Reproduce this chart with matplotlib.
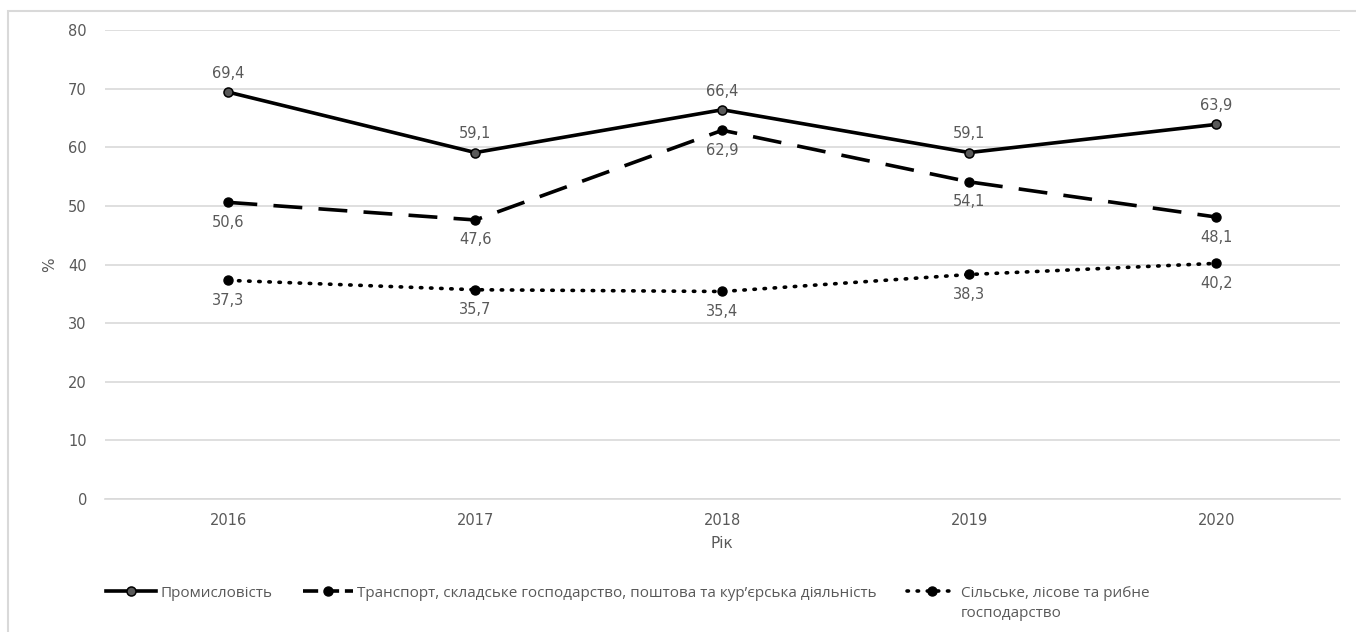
import matplotlib.pyplot as plt
from matplotlib.patches import Rectangle
from matplotlib.legend_handler import HandlerLine2D

plt.rcParams['font.family'] = ['DejaVu Sans']

# Дані
roky = ['2016', '2017', '2018', '2019', '2020']
promyslovist = [69.4, 59.1, 66.4, 59.1, 63.9]
transport = [50.6, 47.6, 62.9, 54.1, 48.1]
silske = [37.3, 35.7, 35.4, 38.3, 40.2]
nazvy = ['Промисловість',
         'Транспорт, складське господарство, поштова та кур\u2019єрська діяльність',
         'Сільське, лісове та рибне']
nazva_dodatok = 'господарство'

sirij = '#595959'
shryft_legendy = {'family': 'Open Sans', 'size': 11}

fig = plt.figure(figsize=(13.56, 6.32), dpi=100)
ax = fig.add_axes([0.0774, 0.2104, 0.9106, 0.7421])

# Рамка навколо діаграми (права та нижня сторони за межами зображення)
fig.patches.append(Rectangle((0.006, -0.05), 1.1, 1.033, transform=fig.transFigure,
                             fill=False, edgecolor='#d9d9d9', linewidth=1.5))

x = range(len(roky))
ax.plot(x, promyslovist, color='black', linewidth=2.6, marker='o', markersize=6.5,
        markerfacecolor='#595959', markeredgecolor='black', markeredgewidth=1.1,
        label=nazvy[0], zorder=3)
l_transport, = ax.plot(x, transport, color='black', linewidth=2.6,
                       linestyle=(0, (8, 4.5)), marker='o', markersize=6.5,
                       markerfacecolor='black', markeredgecolor='black',
                       label=nazvy[1], zorder=3)
ax.plot(x, silske, color='black', linewidth=2.6, linestyle=(0, (0.4, 2.4)),
        dash_capstyle='round', marker='o', markersize=6.5, markerfacecolor='black',
        markeredgecolor='black', label=nazvy[2], zorder=3)

# Підписи значень
def pidpys(v):
    return f'{v:.1f}'.replace('.', ',')

for i, v in enumerate(promyslovist):
    ax.annotate(pidpys(v), (i, v), xytext=(0, 8), textcoords='offset points',
                ha='center', va='bottom', fontsize=10.5, color=sirij)
for ryad in (transport, silske):
    for i, v in enumerate(ryad):
        ax.annotate(pidpys(v), (i, v), xytext=(0, -9), textcoords='offset points',
                    ha='center', va='top', fontsize=10.5, color=sirij)

ax.set_xlim(-0.5, len(roky) - 0.5)
ax.set_ylim(0, 80)
ax.set_yticks(range(0, 81, 10))
ax.set_xticks(list(x))
ax.set_xticklabels(roky)
ax.grid(axis='y', color='#d9d9d9', linewidth=1.2)
ax.set_axisbelow(True)
for s in ('top', 'right', 'left'):
    ax.spines[s].set_visible(False)
ax.spines['bottom'].set_color('#d9d9d9')
ax.spines['bottom'].set_linewidth(1.2)
ax.tick_params(length=0, labelsize=10.5, labelcolor=sirij)
ax.tick_params(axis='y', pad=13)
ax.tick_params(axis='x', pad=10)

ax.set_xlabel('Рік', fontsize=11, color=sirij, labelpad=6)
ax.set_ylabel('%', fontsize=11, color=sirij, labelpad=8)


# коротші штрихи у значку легенди, щоб маркер стояв між штрихами
def korotki_shtrykhy(legend_line, orig):
    legend_line.update_from(orig)
    legend_line.set_linestyle((0, (4.2, 1.6)))


leg = fig.legend(loc='upper center', bbox_to_anchor=(0.463, 0.095), ncol=3,
                 frameon=False, prop=shryft_legendy, labelcolor=sirij,
                 handlelength=3.3, handletextpad=0.25, columnspacing=2.0,
                 handler_map={l_transport: HandlerLine2D(update_func=korotki_shtrykhy)})

# Другий рядок останньої назви під першим
fig.canvas.draw()
ramka = leg.get_texts()[2].get_window_extent()
x0, y0 = fig.transFigure.inverted().transform((ramka.x0, ramka.y0))
fig.text(x0, y0 - 0.008, nazva_dodatok, ha='left', va='top', color=sirij,
         fontproperties=shryft_legendy)

plt.savefig('out.png', dpi=100)
